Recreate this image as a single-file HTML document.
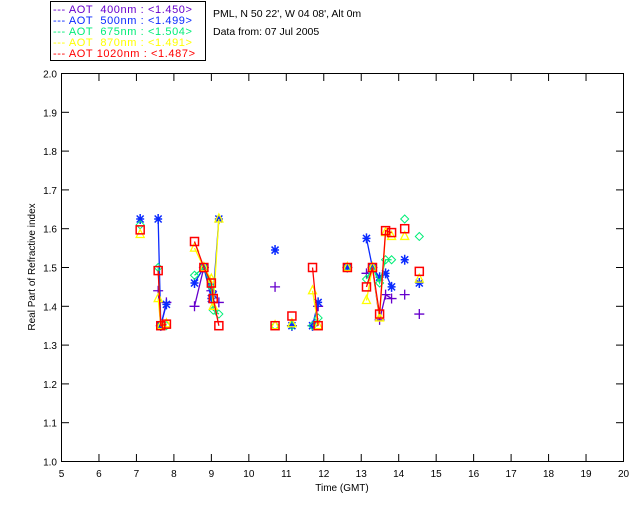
<!DOCTYPE html>
<html><head><meta charset="utf-8"><style>
body{margin:0;background:#fff;}
svg{display:block;font-family:"Liberation Sans",sans-serif;}
</style></head><body>
<svg id="c" width="640" height="512" xmlns="http://www.w3.org/2000/svg">
<rect width="640" height="512" fill="#fff"/>
<g>
<rect x="50.5" y="1.5" width="155" height="59" fill="none" stroke="#000"/>
<g font-size="11" letter-spacing="0.6">
<text x="53" y="13" fill="#6600cc" xml:space="preserve">--- AOT  400nm : &lt;1.450&gt;</text>
<text x="53" y="24" fill="#0a2aff" xml:space="preserve">--- AOT  500nm : &lt;1.499&gt;</text>
<text x="53" y="35" fill="#00ee77" xml:space="preserve">--- AOT  675nm : &lt;1.504&gt;</text>
<text x="53" y="46" fill="#ffff00" xml:space="preserve">--- AOT  870nm : &lt;1.491&gt;</text>
<text x="53" y="57" fill="#ff0000" xml:space="preserve">--- AOT 1020nm : &lt;1.487&gt;</text>
</g></g>
<text x="213" y="17" font-size="10.5">PML, N 50 22', W 04 08', Alt 0m</text>
<text x="213" y="35" font-size="10.5">Data from: 07 Jul 2005</text>
<rect x="61.5" y="73.5" width="562" height="388" fill="none" stroke="#000"/>
<g id="axes"></g>
<g id="marks"></g>
<text x="342" y="491" font-size="10" text-anchor="middle">Time (GMT)</text>
<text font-size="10" text-anchor="middle" transform="translate(35,267) rotate(-90)">Real Part of Refractive index</text>
</svg>
<script>
const xTicks=[5,6,7,8,9,10,11,12,13,14,15,16,17,18,19,20];
const yTicks=[1.0,1.1,1.2,1.3,1.4,1.5,1.6,1.7,1.8,1.9,2.0];
const times=[7.1,7.58,7.65,7.8,8.55,8.8,9.0,9.05,9.2,10.7,11.15,11.7,11.85,12.63,13.14,13.3,13.49,13.65,13.81,14.16,14.55];
const v400=[null,1.44,1.35,1.41,1.40,1.50,1.44,1.41,1.41,1.45,1.35,1.35,1.40,1.50,1.485,1.50,1.365,1.43,1.42,1.43,1.38];
const v500=[1.625,1.625,1.35,1.405,1.46,1.50,1.42,1.43,1.625,1.545,1.35,1.35,1.41,1.50,1.575,1.50,1.475,1.485,1.45,1.52,1.46];
const v675=[1.61,1.50,1.35,1.35,1.48,1.50,1.45,1.39,1.38,1.35,1.35,1.35,1.37,1.50,1.47,1.50,1.46,1.52,1.52,1.625,1.58];
const v870=[1.585,1.42,1.35,1.355,1.55,1.50,1.47,1.40,1.625,1.35,1.355,1.44,1.35,1.50,1.415,1.50,1.37,1.59,1.58,1.58,1.47];
const v1020=[1.597,1.492,1.35,1.354,1.567,1.50,1.46,1.42,1.35,1.35,1.375,1.50,1.35,1.50,1.45,1.50,1.38,1.595,1.59,1.60,1.49];
const NS='http://www.w3.org/2000/svg';
const X=t=>61.5+(t-5)/15*562, Y=v=>461.5-(v-1)*388;
function mk(tag,at,parent){const e=document.createElementNS(NS,tag);for(const k in at)e.setAttribute(k,at[k]);parent.appendChild(e);return e;}
const ax=document.getElementById('axes'), mg=document.getElementById('marks');
xTicks.forEach(t=>{const x=X(t);
 let l=mk('line',{x1:x,x2:x,y1:461.5,y2:454,stroke:'#000'},ax);
 
 
 l=mk('line',{x1:x,x2:x,y1:73.5,y2:81,stroke:'#000'},ax);
 
 
 const tx=mk('text',{x:x,y:477,'font-size':10,'text-anchor':'middle'},ax);tx.textContent=t;
 
 
});
yTicks.forEach(v=>{const y=Y(v);
 let l=mk('line',{x1:61.5,x2:69,y1:y,y2:y,stroke:'#000'},ax);
 
 
 l=mk('line',{x1:623.5,x2:616,y1:y,y2:y,stroke:'#000'},ax);
 
 
 const tx=mk('text',{x:57,y:y+4,'font-size':10,'text-anchor':'end'},ax);tx.textContent=v.toFixed(1);
 
 
});
const series=[['400',v400,'#6600cc','plus'],['500',v500,'#0a2aff','star'],['675',v675,'#00ee77','diamond'],['870',v870,'#ffff00','tri'],['1020',v1020,'#ff0000','square']];
series.forEach(([nm,vals,col,shape])=>{
 const g=mk('g',{},mg);
 
 
 let d='',prev=null;
 times.forEach((t,i)=>{const v=vals[i];if(v==null){prev=null;return;}
  const p=[X(t),Y(v)];
  if(prev!==null&&t-prev<0.3)d+='L'+p[0]+' '+p[1];else d+='M'+p[0]+' '+p[1];
  prev=t;});
 const ln=mk('path',{d:d,fill:'none',stroke:col,'stroke-width':1.3},g);
 
 
 times.forEach((t,i)=>{const v=vals[i];if(v==null)return;const x=X(t),y=Y(v);let m;
  if(shape==='plus')m=mk('path',{d:`M${x-5} ${y}H${x+5}M${x} ${y-5}V${y+5}`,stroke:col,'stroke-width':1.3,fill:'none'},g);
  else if(shape==='star')m=mk('path',{d:`M${x-4} ${y}H${x+4}M${x} ${y-5}V${y+5}M${x-3.5} ${y-3.5}L${x+3.5} ${y+3.5}M${x-3.5} ${y+3.5}L${x+3.5} ${y-3.5}`,stroke:col,'stroke-width':1.5,fill:'none'},g);
  else if(shape==='diamond')m=mk('path',{d:`M${x} ${y-4}L${x+4} ${y}L${x} ${y+4}L${x-4} ${y}Z`,stroke:col,'stroke-width':1,fill:'none'},g);
  else if(shape==='tri')m=mk('path',{d:`M${x} ${y-5}L${x+4} ${y+3}L${x-4} ${y+3}Z`,stroke:col,'stroke-width':1.3,fill:'none'},g);
  else m=mk('rect',{x:x-4,y:y-4,width:8,height:8,stroke:col,'stroke-width':1.5,fill:'none'},g);
  
  
 });
});
</script>
</body></html>
